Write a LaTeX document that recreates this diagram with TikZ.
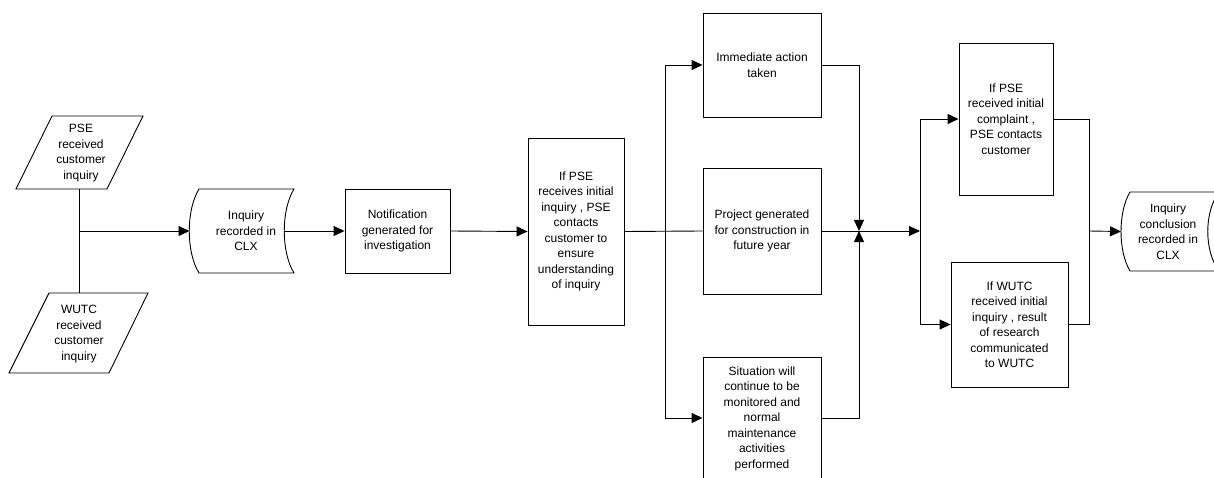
\documentclass[tikz,border=0pt]{standalone}
\usepackage{fontspec}
\setmainfont{Liberation Sans}
\usetikzlibrary{arrows.meta}
\begin{document}
\begin{tikzpicture}[x=1pt,y=1pt,
  line width=0.9pt,
  every node/.style={font=\fontsize{12}{15.5}\selectfont, align=center, inner sep=0pt},
  procbox/.style={draw, rectangle},
  arr/.style={-{Triangle[length=11pt,width=10pt]}}]
\path[use as bounding box, clip] (0,0) rectangle (1214,-478);

% input parallelograms
\draw (52,-116) -- (143,-116) -- (107,-189) -- (16,-189) -- cycle;
\node (pseIn) at (81,-153) {PSE\\received\\customer\\inquiry};
\draw (49,-293) -- (148,-293) -- (109,-373) -- (9,-373) -- cycle;
\node (wutcIn) at (79,-334) {WUTC\\received\\customer\\inquiry};
\coordinate (pseB) at (79,-189);
\coordinate (wutcT) at (79,-293);
\coordinate (j1) at (79,-231);

% stored data 1
\draw (199,-189) -- (294,-189) .. controls (281,-210) and (281,-252) .. (294,-273)
  -- (199,-273) .. controls (186,-252) and (186,-210) .. (199,-189) -- cycle;
\node (clx1) at (246,-231) {Inquiry\\recorded in\\CLX};
\coordinate (clx1L) at (189.5,-231);
\coordinate (clx1R) at (284,-231);

% process boxes
\node[procbox, minimum width=105, minimum height=84] (notif) at (397.5,-231) {Notification\\generated for\\investigation};
\node[procbox, minimum width=96, minimum height=187] (psec) at (576,-231.5) {If PSE\\receives initial\\inquiry , PSE\\contacts\\customer to\\ensure\\understanding\\of inquiry};
\node[procbox, minimum width=118, minimum height=104] (imm) at (762,-65) {Immediate action\\taken};
\node[procbox, minimum width=118, minimum height=126] (proj) at (762,-231) {Project generated\\for construction in\\future year};
\node[procbox, minimum width=118, minimum height=122] (sit) at (762,-418) {};
\node[anchor=north] (sitT) at (762,-366) {Situation will\\continue to be\\monitored and\\normal\\maintenance\\activities\\performed};
\node[procbox, minimum width=94, minimum height=152] (pseR) at (1006,-119) {If PSE\\received initial\\complaint ,\\PSE contacts\\customer};
\node[procbox, minimum width=117, minimum height=125] (wutcR) at (1009.5,-324.5) {If WUTC\\received initial\\inquiry , result\\of research\\communicated\\to WUTC};

% stored data 2 (cut by the page edge)
\draw (1130,-192) -- (1219,-192) .. controls (1204,-212) and (1204,-251) .. (1219,-271)
  -- (1130,-271) .. controls (1118,-251) and (1118,-212) .. (1130,-192) -- cycle;
\node (clx2) at (1168,-231.5) {Inquiry\\conclusion\\recorded in\\CLX};
\coordinate (clx2L) at (1121,-231.5);

% junction coordinates
\coordinate (b1) at (665,-231);
\coordinate (m1) at (859,-231);
\coordinate (j2) at (920,-231);
\coordinate (j3) at (1089,-231);

% connectors
\draw (pseB) -- (wutcT);
\draw[arr] (j1) -- (clx1L);
\draw[arr] (clx1R) -- (notif.west);
\draw[arr] (notif.east) -- (psec.west);
\draw (psec.east) -- (proj.west);
\draw[arr] (b1) |- (imm.west);
\draw[arr] (b1) |- (sit.west);
\draw[arr] (imm.east) -| (m1);
\draw[arr] (sit.east) -| (m1);
\draw[arr] (proj.east) -- (j2);
\draw[arr] (j2) |- (pseR.west);
\draw[arr] (j2) |- (wutcR.west);
\draw (pseR.east) -| (j3);
\draw (wutcR.east) -| (j3);
\draw[arr] (j3) -- (clx2L);
\end{tikzpicture}
\end{document}
